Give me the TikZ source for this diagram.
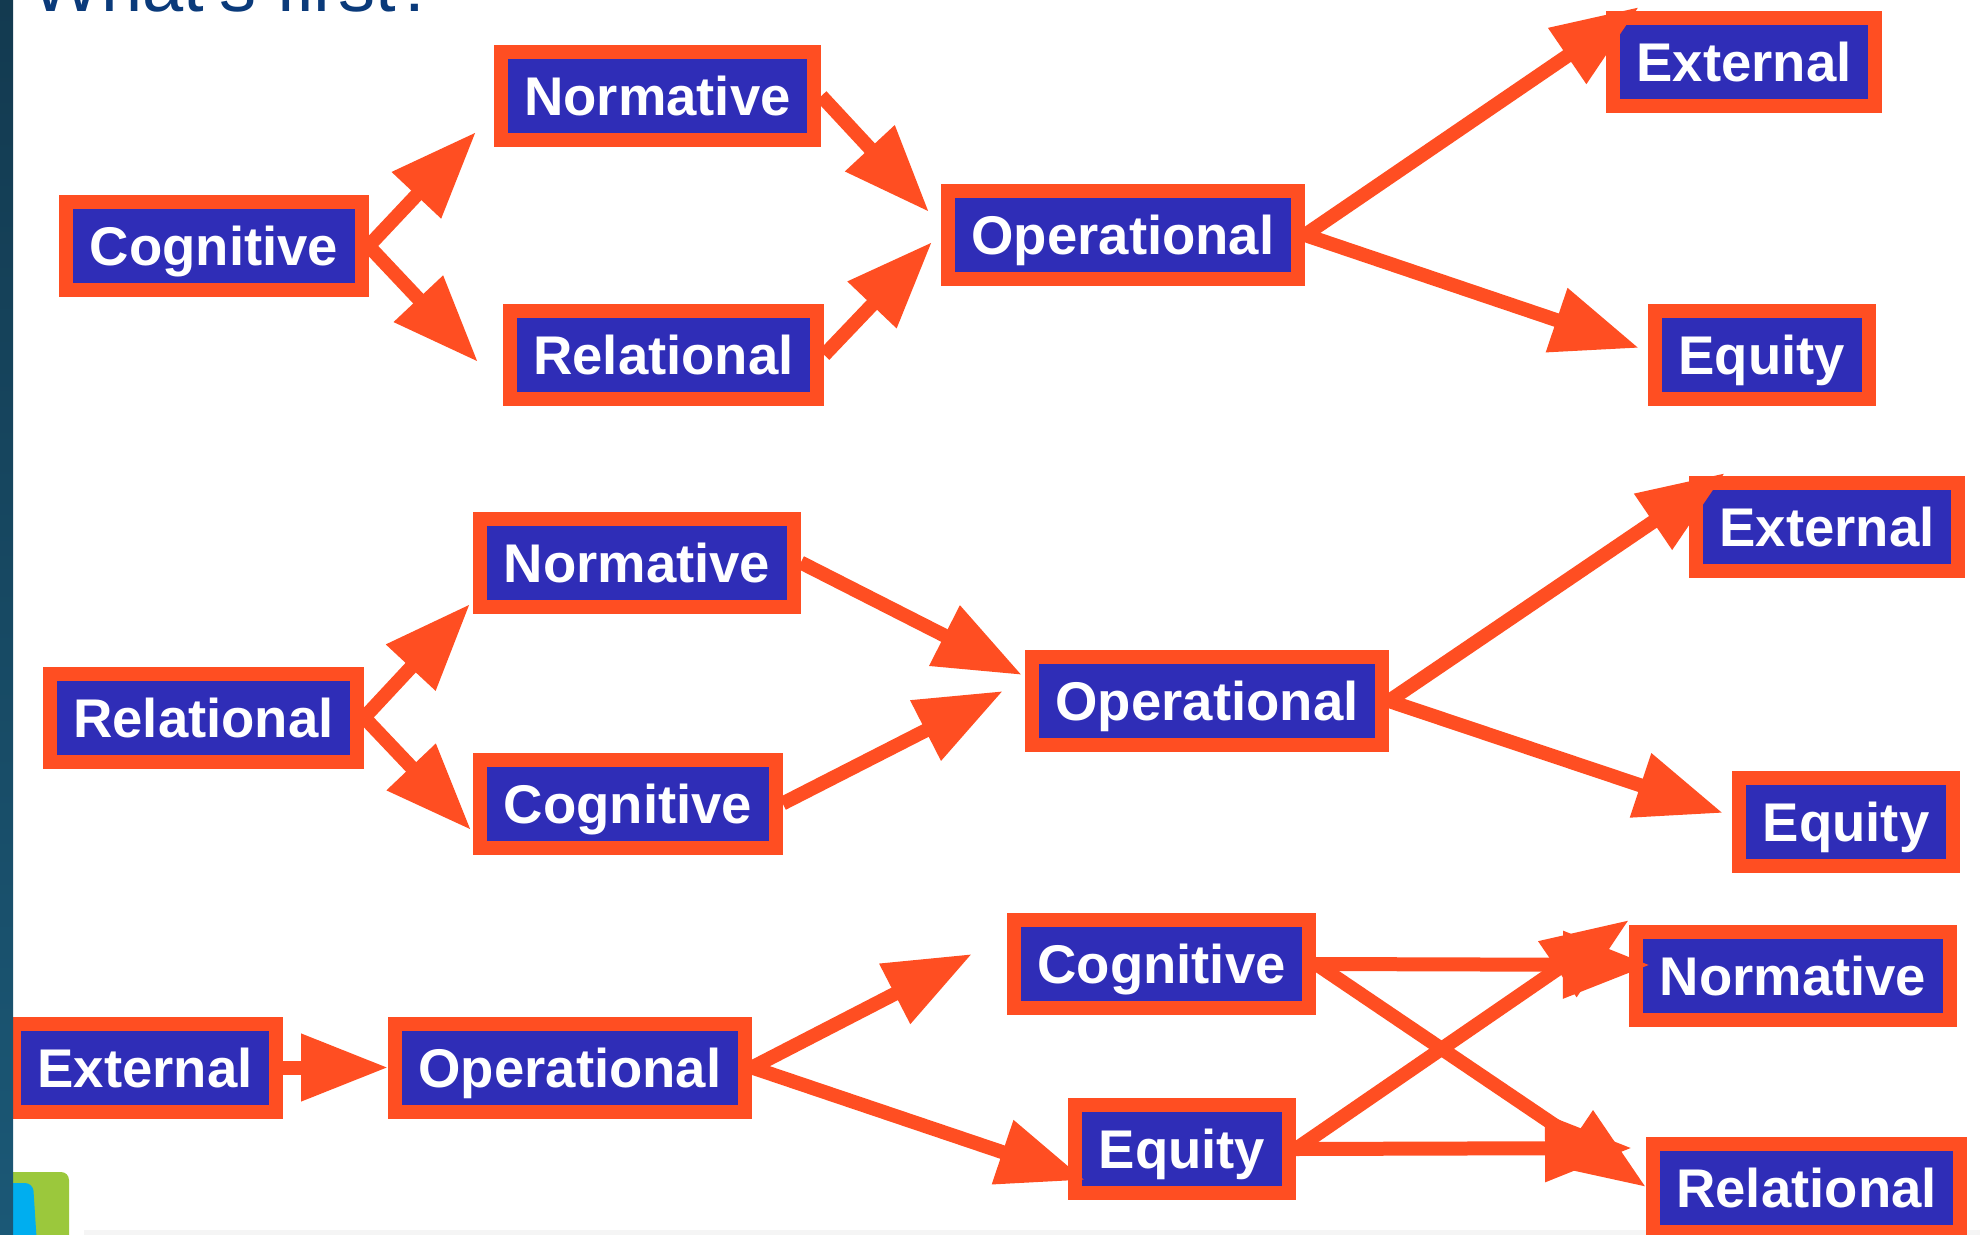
\documentclass[tikz,border=0pt]{standalone}
\usepackage{fontspec}
\newfontfamily\boxfont{Liberation Sans}
\usetikzlibrary{arrows.meta}
\definecolor{orng}{RGB}{255,78,34}
\definecolor{blu}{RGB}{47,45,183}
\definecolor{ttl}{RGB}{10,58,122}
\definecolor{bartop}{RGB}{19,58,80}
\definecolor{barbot}{RGB}{27,88,118}
\definecolor{lgreen}{RGB}{155,200,60}
\definecolor{lcyan}{RGB}{0,174,239}
\begin{document}
\begin{tikzpicture}[x=0.5pt,y=-0.5pt,
  box/.style={draw=orng, fill=blu, line width=7pt, text=white,
    font={\boxfont\bfseries\fontsize{27.25pt}{30pt}\selectfont},
    inner xsep=11.75pt, inner ysep=0pt, minimum height=44pt,
    text height=19.5pt, text depth=0pt, outer sep=3.5pt},
  arr/.style={draw=orng, line width=7pt,
    -{Triangle[length=43.5pt,width=32pt]}}]
\clip (0,0) rectangle (1980,1235);
\fill[white] (0,0) rectangle (1980,1235);
\fill[black!4] (84,1230) rectangle (1980,1235);
% title (cut off at the top)
\node[anchor=base west, inner sep=0pt, text=ttl,
  font={\boxfont\fontsize{37pt}{40pt}\selectfont}] (title) at (31,12) {What’s first?};
% row 1
\node[box] (C1) at (214,246) {Cognitive};
\node[box] (N1) at (657.5,96) {Normative};
\node[box] (R1) at (663.5,355) {Relational};
\node[box] (O1) at (1123,235) {Operational};
\node[box] (E1) at (1744,62.5) {External};
\node[box] (Q1) at (1761.75,355.5) {Equity};
% row 2
\node[box] (R2) at (203.5,717.5) {Relational};
\node[box] (N2) at (637,562.5) {Normative};
\node[box] (C2) at (628,803.5) {Cognitive};
\node[box] (O2) at (1207,701) {Operational};
\node[box] (E2) at (1827,527) {External};
\node[box] (Q2) at (1846,822) {Equity};
% row 3
\node[box] (E3) at (145,1067.5) {External};
\node[box] (O3) at (570,1067.5) {Operational};
\node[box] (C3) at (1161.5,964) {Cognitive};
\node[box] (Q3) at (1182,1149) {Equity};
\node[box] (N3) at (1793,976) {Normative};
\node[box] (R3) at (1806.5,1188) {Relational};
% arrow tips
\coordinate (tC1N1) at (476,132);
\coordinate (tC1R1) at (478,362);
\coordinate (tN1O1) at (929,212);
\coordinate (tR1O1) at (932,242);
\coordinate (tO1E1) at (1639,7);
\coordinate (tO1Q1) at (1639,348);
\coordinate (tR2N2) at (470,604);
\coordinate (tR2C2) at (471,830);
\coordinate (tN2O2) at (1022,675);
\coordinate (tC2O2) at (1003,691);
\coordinate (tO2E2) at (1725,473);
\coordinate (tO2Q2) at (1723,813);
\coordinate (tO3C3) at (972,954);
\coordinate (tO3Q3) at (1085,1180);
\coordinate (tC3N3) at (1650,965);
\coordinate (tC3R3) at (1646,1187);
\coordinate (tQ3N3) at (1629,920);
\coordinate (tQ3R3) at (1632,1148);
% arrows
\draw[arr] (C1.east) -- (tC1N1);
\draw[arr] (C1.east) -- (tC1R1);
\draw[arr] (N1.east) -- (tN1O1);
\draw[arr] (R1.east) -- (tR1O1);
\draw[arr] (O1.east) -- (tO1E1);
\draw[arr] (O1.east) -- (tO1Q1);
\draw[arr] (R2.east) -- (tR2N2);
\draw[arr] (R2.east) -- (tR2C2);
\draw[arr] (N2.east) -- (tN2O2);
\draw[arr] (C2.east) -- (tC2O2);
\draw[arr] (O2.east) -- (tO2E2);
\draw[arr] (O2.east) -- (tO2Q2);
\draw[arr] (E3.east) -- (O3.west);
\draw[arr] (O3.east) -- (tO3C3);
\draw[arr] (O3.east) -- (tO3Q3);
\draw[arr] (C3.east) -- (tC3N3);
\draw[arr] (C3.east) -- (tC3R3);
\draw[arr] (Q3.east) -- (tQ3N3);
\draw[arr] (Q3.east) -- (tQ3R3);
% left bar and logo fragment
\fill[lgreen, rounded corners=4pt] (0,1172) rectangle (69,1260);
\fill[lcyan, rounded corners=4pt] (0,1183) -- (33,1183) -- (38,1260) -- (0,1260) -- cycle;
\shade[top color=bartop, bottom color=barbot] (0,0) rectangle (13,1235);
\end{tikzpicture}
\end{document}
